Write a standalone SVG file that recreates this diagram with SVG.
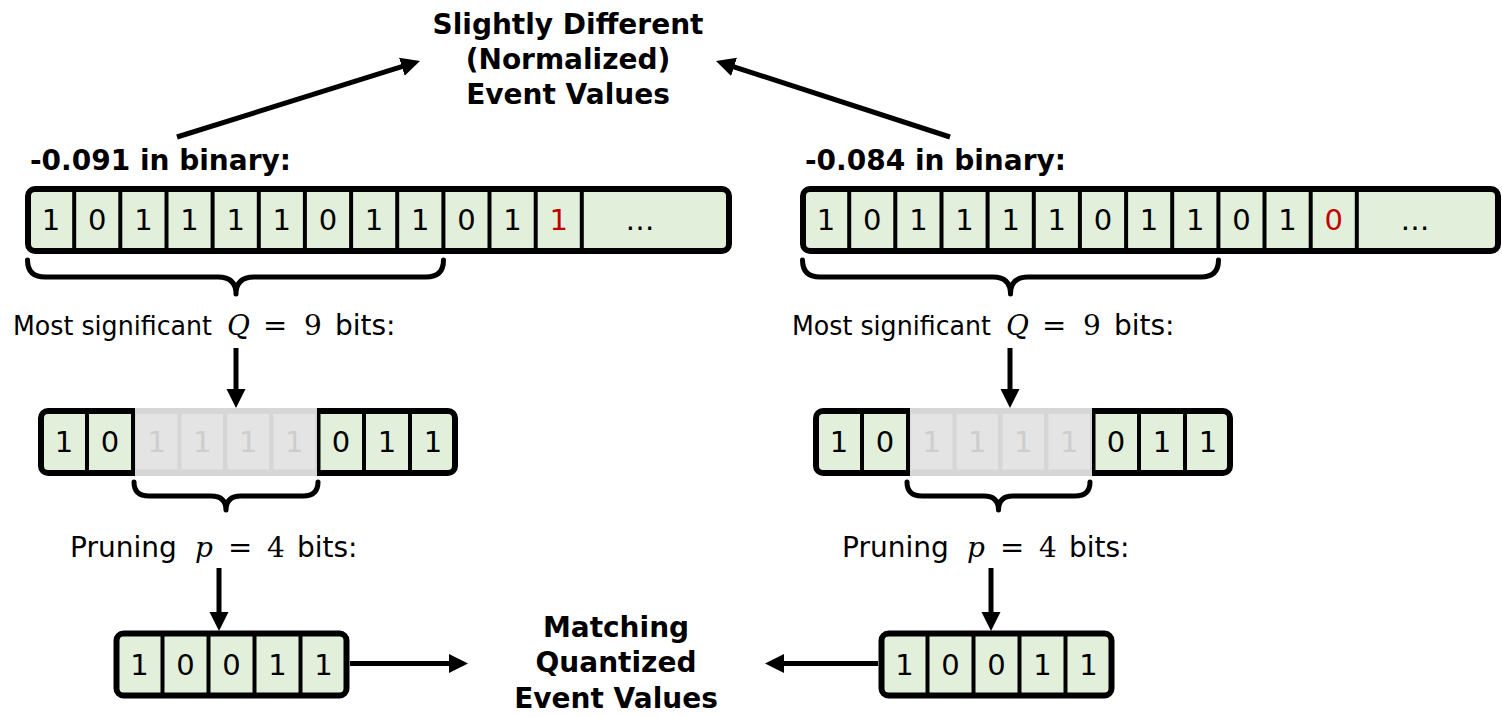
<svg xmlns="http://www.w3.org/2000/svg" width="1502" height="717" viewBox="0 0 1502 717">
<style>
.row{fill:#e2efda;stroke:#000;stroke-width:6}
.div{stroke:#000;stroke-width:4}
.bit{font-family:"DejaVu Sans",Verdana,sans-serif;font-size:29px;fill:#000;text-anchor:middle}
.red{fill:#c00000}
.ghost{fill:#cdcdcd}
.gbg{fill:#d6d6d6}
.gcell{fill:#e4e4e4}
.lbl{font-family:"DejaVu Sans",Verdana,sans-serif;font-size:28px;fill:#000}
.lbs{font-family:"DejaVu Sans",Verdana,sans-serif;font-size:26.5px;fill:#000}
.math{font-family:"DejaVu Serif","Liberation Serif",serif;font-size:28px;fill:#000}
.eq{font-family:"DejaVu Sans",sans-serif;font-size:29px;fill:#000}
.it{font-style:italic}
.ttl{font-family:"DejaVu Sans",Verdana,sans-serif;font-size:28px;font-weight:bold;fill:#000}
.mid{text-anchor:middle}
.brace{fill:none;stroke:#000;stroke-width:5;stroke-linecap:round;stroke-linejoin:round}
.arr{fill:none;stroke:#000;stroke-width:5;marker-end:url(#ah)}
</style>
<defs>
<marker id="ah" markerUnits="userSpaceOnUse" markerWidth="20" markerHeight="20" refX="5" refY="9.5" orient="auto">
<path d="M0,0 L19,9.5 L0,19 Z" fill="#000"/>
</marker>
</defs>

<g id="title">
<text class="ttl mid" x="568" y="34">Slightly Different</text>
<text class="ttl mid" x="568" y="69">(Normalized)</text>
<text class="ttl mid" x="568" y="104">Event Values</text>
</g>

<g id="label-left"><text class="ttl" x="30" y="170">-0.091 in binary:</text></g>
<g id="label-right"><text class="ttl" x="805" y="170">-0.084 in binary:</text></g>

<g id="row-top-left">
<rect class="row" x="28" y="189" width="701" height="62" rx="7"/>
<g class="div">
<line x1="74.2" y1="189" x2="74.2" y2="251"/><line x1="120.3" y1="189" x2="120.3" y2="251"/><line x1="166.5" y1="189" x2="166.5" y2="251"/><line x1="212.6" y1="189" x2="212.6" y2="251"/><line x1="258.8" y1="189" x2="258.8" y2="251"/><line x1="304.9" y1="189" x2="304.9" y2="251"/><line x1="351.1" y1="189" x2="351.1" y2="251"/><line x1="397.2" y1="189" x2="397.2" y2="251"/><line x1="443.4" y1="189" x2="443.4" y2="251"/><line x1="489.5" y1="189" x2="489.5" y2="251"/><line x1="535.7" y1="189" x2="535.7" y2="251"/><line x1="581.8" y1="189" x2="581.8" y2="251"/>
</g>
<text class="bit" x="51.1" y="230">1</text><text class="bit" x="97.2" y="230">0</text><text class="bit" x="143.4" y="230">1</text><text class="bit" x="189.5" y="230">1</text><text class="bit" x="235.7" y="230">1</text><text class="bit" x="281.8" y="230">1</text><text class="bit" x="328" y="230">0</text><text class="bit" x="374.1" y="230">1</text><text class="bit" x="420.3" y="230">1</text><text class="bit" x="466.4" y="230">0</text><text class="bit" x="512.6" y="230">1</text><text class="bit red" x="558.7" y="230">1</text><text class="bit" x="640" y="230">…</text>
</g>

<g id="row-top-right">
<rect class="row" x="803" y="189" width="695" height="62" rx="7"/>
<g class="div">
<line x1="849.2" y1="189" x2="849.2" y2="251"/><line x1="895.3" y1="189" x2="895.3" y2="251"/><line x1="941.5" y1="189" x2="941.5" y2="251"/><line x1="987.6" y1="189" x2="987.6" y2="251"/><line x1="1033.8" y1="189" x2="1033.8" y2="251"/><line x1="1079.9" y1="189" x2="1079.9" y2="251"/><line x1="1126.1" y1="189" x2="1126.1" y2="251"/><line x1="1172.2" y1="189" x2="1172.2" y2="251"/><line x1="1218.4" y1="189" x2="1218.4" y2="251"/><line x1="1264.5" y1="189" x2="1264.5" y2="251"/><line x1="1310.7" y1="189" x2="1310.7" y2="251"/><line x1="1356.8" y1="189" x2="1356.8" y2="251"/>
</g>
<text class="bit" x="826.1" y="230">1</text><text class="bit" x="872.2" y="230">0</text><text class="bit" x="918.4" y="230">1</text><text class="bit" x="964.5" y="230">1</text><text class="bit" x="1010.7" y="230">1</text><text class="bit" x="1056.8" y="230">1</text><text class="bit" x="1103" y="230">0</text><text class="bit" x="1149.1" y="230">1</text><text class="bit" x="1195.3" y="230">1</text><text class="bit" x="1241.4" y="230">0</text><text class="bit" x="1287.6" y="230">1</text><text class="bit red" x="1333.7" y="230">0</text><text class="bit" x="1415" y="230">…</text>
</g>

<g id="brace-q-left"><path class="brace" d="M27.5,260 Q27.5,277 45,277 L218,277 Q236,277 236,294 Q236,277 254,277 L426,277 Q443.5,277 443.5,260"/></g>
<g id="brace-q-right"><path class="brace" d="M802.5,260 Q802.5,277 820,277 L993,277 Q1010.5,277 1010.5,294 Q1010.5,277 1028,277 L1201,277 Q1218.5,277 1218.5,260"/></g>

<g id="label-q-left">
<text class="lbs" x="13" y="335" textLength="199" lengthAdjust="spacingAndGlyphs">Most significant</text>
<text class="math it" x="227" y="335">Q</text>
<text class="eq" x="263" y="335">=</text>
<text class="math" x="304" y="335">9</text>
<text class="lbl" x="335" y="335">bits:</text>
</g>
<g id="label-q-right">
<text class="lbs" x="792" y="335" textLength="199" lengthAdjust="spacingAndGlyphs">Most significant</text>
<text class="math it" x="1006" y="335">Q</text>
<text class="eq" x="1042" y="335">=</text>
<text class="math" x="1083" y="335">9</text>
<text class="lbl" x="1114" y="335">bits:</text>
</g>

<g id="row-mid-left">
<rect class="row" x="41" y="411" width="414" height="62" rx="7"/>
<g class="div">
<line x1="87" y1="411" x2="87" y2="473"/><line x1="133" y1="411" x2="133" y2="473"/><line x1="318.5" y1="411" x2="318.5" y2="473"/><line x1="364" y1="411" x2="364" y2="473"/><line x1="410" y1="411" x2="410" y2="473"/>
</g>
<rect class="gbg" x="135" y="408" width="182" height="68"/>
<rect class="gcell" x="136" y="414" width="41.5" height="55.5"/><rect class="gcell" x="181.5" y="414" width="41.5" height="55.5"/><rect class="gcell" x="227.5" y="414" width="41.5" height="55.5"/><rect class="gcell" x="273.5" y="414" width="41.5" height="55.5"/>
<text class="bit" x="64" y="452">1</text><text class="bit" x="110" y="452">0</text>
<text class="bit ghost" x="156.7" y="452">1</text><text class="bit ghost" x="202.2" y="452">1</text><text class="bit ghost" x="248.2" y="452">1</text><text class="bit ghost" x="294.2" y="452">1</text>
<text class="bit" x="341" y="452">0</text><text class="bit" x="387" y="452">1</text><text class="bit" x="433" y="452">1</text>
</g>

<g id="row-mid-right">
<rect class="row" x="816" y="411" width="414" height="62" rx="7"/>
<g class="div">
<line x1="862" y1="411" x2="862" y2="473"/><line x1="908" y1="411" x2="908" y2="473"/><line x1="1093.5" y1="411" x2="1093.5" y2="473"/><line x1="1139" y1="411" x2="1139" y2="473"/><line x1="1185" y1="411" x2="1185" y2="473"/>
</g>
<rect class="gbg" x="910" y="408" width="182" height="68"/>
<rect class="gcell" x="911" y="414" width="41.5" height="55.5"/><rect class="gcell" x="956.5" y="414" width="41.5" height="55.5"/><rect class="gcell" x="1002.5" y="414" width="41.5" height="55.5"/><rect class="gcell" x="1048.5" y="414" width="41.5" height="55.5"/>
<text class="bit" x="839" y="452">1</text><text class="bit" x="885" y="452">0</text>
<text class="bit ghost" x="931.7" y="452">1</text><text class="bit ghost" x="977.2" y="452">1</text><text class="bit ghost" x="1023.2" y="452">1</text><text class="bit ghost" x="1069.2" y="452">1</text>
<text class="bit" x="1116" y="452">0</text><text class="bit" x="1162" y="452">1</text><text class="bit" x="1208" y="452">1</text>
</g>

<g id="brace-p-left"><path class="brace" d="M134,482 Q134,496 149,496 L211,496 Q226,496 226,510 Q226,496 241,496 L303,496 Q318,496 318,482"/></g>
<g id="brace-p-right"><path class="brace" d="M907,482 Q907,496 922,496 L984,496 Q998.5,496 998.5,510 Q998.5,496 1013,496 L1075,496 Q1090,496 1090,482"/></g>

<g id="label-p-left">
<text class="lbl" x="70" y="557">Pruning</text>
<text class="math it" x="195" y="557">p</text>
<text class="eq" x="228" y="557">=</text>
<text class="math" x="267" y="557">4</text>
<text class="lbl" x="297" y="557">bits:</text>
</g>
<g id="label-p-right">
<text class="lbl" x="842" y="557">Pruning</text>
<text class="math it" x="967" y="557">p</text>
<text class="eq" x="1000" y="557">=</text>
<text class="math" x="1039" y="557">4</text>
<text class="lbl" x="1069" y="557">bits:</text>
</g>

<g id="row-bot-left">
<rect class="row" x="116.5" y="633.5" width="230" height="62" rx="7"/>
<g class="div">
<line x1="162.5" y1="633.5" x2="162.5" y2="695.5"/><line x1="208.5" y1="633.5" x2="208.5" y2="695.5"/><line x1="254.5" y1="633.5" x2="254.5" y2="695.5"/><line x1="300.5" y1="633.5" x2="300.5" y2="695.5"/>
</g>
<text class="bit" x="139.5" y="675">1</text><text class="bit" x="185.5" y="675">0</text><text class="bit" x="231.5" y="675">0</text><text class="bit" x="277.5" y="675">1</text><text class="bit" x="323.5" y="675">1</text>
</g>

<g id="row-bot-right">
<rect class="row" x="881.5" y="633.5" width="230" height="62" rx="7"/>
<g class="div">
<line x1="927.5" y1="633.5" x2="927.5" y2="695.5"/><line x1="973.5" y1="633.5" x2="973.5" y2="695.5"/><line x1="1019.5" y1="633.5" x2="1019.5" y2="695.5"/><line x1="1065.5" y1="633.5" x2="1065.5" y2="695.5"/>
</g>
<text class="bit" x="904.5" y="675">1</text><text class="bit" x="950.5" y="675">0</text><text class="bit" x="996.5" y="675">0</text><text class="bit" x="1042.5" y="675">1</text><text class="bit" x="1088.5" y="675">1</text>
</g>

<g id="result">
<text class="ttl mid" x="616" y="637">Matching</text>
<text class="ttl mid" x="616" y="672">Quantized</text>
<text class="ttl mid" x="616" y="708">Event Values</text>
</g>

<g id="connectors">
<line class="arr" x1="177" y1="137" x2="406.6" y2="65.2"/>
<line class="arr" x1="950" y1="137" x2="729.3" y2="65.3"/>
<line class="arr" x1="236" y1="348" x2="236" y2="394"/>
<line class="arr" x1="1010" y1="348" x2="1010" y2="394"/>
<line class="arr" x1="219" y1="568" x2="219" y2="617"/>
<line class="arr" x1="991" y1="568" x2="991" y2="617"/>
<line class="arr" x1="350" y1="663.5" x2="454" y2="663.5"/>
<line class="arr" x1="878" y1="663.5" x2="779" y2="663.5"/>
</g>
</svg>
